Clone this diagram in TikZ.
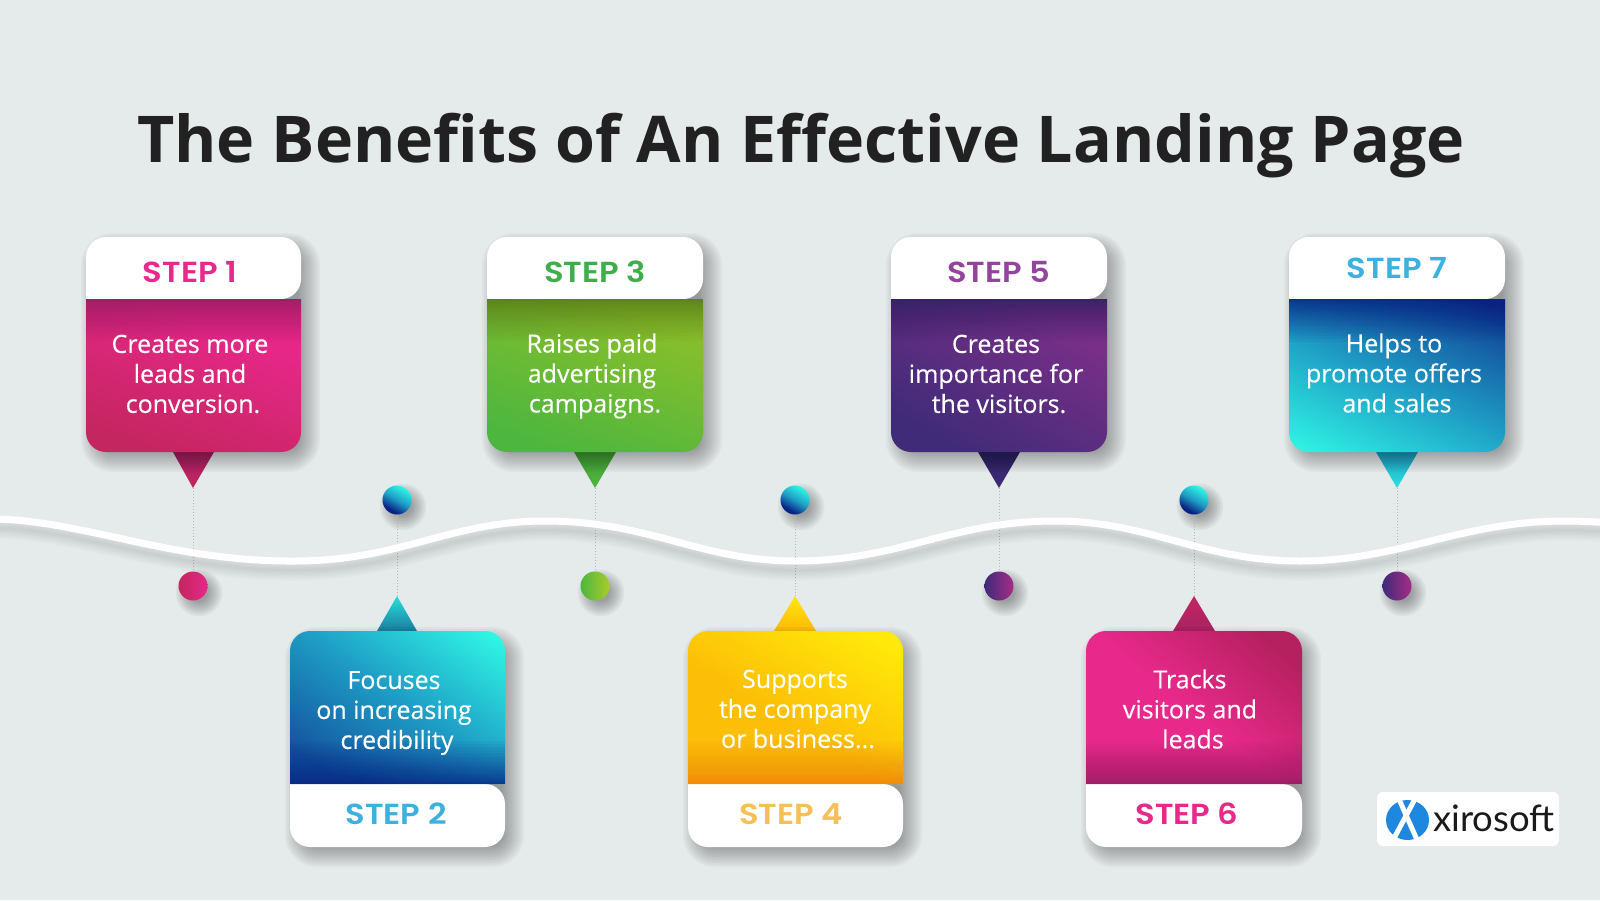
\documentclass[tikz,border=0pt]{standalone}
\usepackage{fontspec}
\setmainfont{Open Sans}
\newfontfamily\bodyfont{Open Sans}[FakeBold=0.35]
\newfontfamily\stepfont{Poppins SemiBold}[FakeStretch=1.11]
\newfontfamily\logofont{Lato}
\definecolor{bgc}{HTML}{E5EAEB}
\definecolor{pkA}{HTML}{8E1F5E}\definecolor{pkB}{HTML}{E62788}\definecolor{pkC}{HTML}{C4265F}\definecolor{pkD}{HTML}{A82264}
\definecolor{grA}{HTML}{55771C}\definecolor{grB}{HTML}{8ABF2A}\definecolor{grC}{HTML}{4DB63F}
\definecolor{puA}{HTML}{2B2460}\definecolor{puB}{HTML}{7A2F88}\definecolor{puC}{HTML}{3F2B78}
\definecolor{blA}{HTML}{2FF5E4}\definecolor{blB}{HTML}{1E9CC5}\definecolor{blC}{HTML}{0A2283}\definecolor{blD}{HTML}{14559F}
\definecolor{yeA}{HTML}{FFE80A}\definecolor{yeB}{HTML}{FCBE07}\definecolor{yeC}{HTML}{F2820C}
\definecolor{p6A}{HTML}{B5205E}\definecolor{p6B}{HTML}{E8298B}
\pgfdeclareverticalshading{sOne}{100bp}{color(0bp)=(pkC); color(25bp)=(pkC); color(65bp)=(pkB); color(100bp)=(pkB)}
\pgfdeclareverticalshading{sThree}{100bp}{color(0bp)=(grC); color(25bp)=(grC); color(72bp)=(grB); color(100bp)=(grB)}
\pgfdeclareverticalshading{sFive}{100bp}{color(0bp)=(puC); color(25bp)=(puC); color(72bp)=(puB); color(100bp)=(puB)}
\pgfdeclareverticalshading{sTwo}{100bp}{color(0bp)=(blD); color(24bp)=(blD); color(52bp)=(blB); color(82bp)=(blA); color(100bp)=(blA)}
\pgfdeclareverticalshading{sDot}{100bp}{color(0bp)=(blC); color(30bp)=(blC); color(50bp)=(blB); color(74bp)=(blA); color(100bp)=(blA)}
\pgfdeclareverticalshading{sSeven}{100bp}{color(0bp)=(blA); color(18bp)=(blA); color(48bp)=(blB); color(72bp)=(blD); color(85bp)=(blC); color(100bp)=(blC)}
\pgfdeclareverticalshading{sFour}{100bp}{color(0bp)=(yeB); color(45bp)=(yeB); color(78bp)=(yeA); color(100bp)=(yeA)}
\pgfdeclareverticalshading{sSix}{100bp}{color(0bp)=(p6B); color(48bp)=(p6B); color(78bp)=(p6A); color(100bp)=(p6A)}
\definecolor{tBlue}{HTML}{3EB0E0}\definecolor{tPink}{HTML}{E8288A}\definecolor{tGreen}{HTML}{3DAE4A}\definecolor{tPurple}{HTML}{93459E}\definecolor{tGold}{HTML}{F5C05A}
\definecolor{dotP}{HTML}{A62C88}\definecolor{dotG}{HTML}{A8CC28}\definecolor{logoBlue}{HTML}{1E88E0}
\tikzset{
  x=1pt,y=-1pt,
  bodytext/.style={text=white,font=\bodyfont\fontsize{25}{30}\selectfont,align=center,inner sep=0pt},
  steplabel/.style={font=\stepfont\fontsize{29}{30}\selectfont,inner sep=0pt,anchor=base},
  titletext/.style={text=black!87,font=\bfseries\fontsize{64.5}{70}\selectfont,inner sep=0pt,anchor=base},
  dotnode/.style={circle,minimum size=29pt,inner sep=0pt},
  guide/.style={draw=black!28,line width=.9pt,dash pattern=on 1.2pt off 1.8pt},
  pinkdot/.style={dotnode,left color=pkC,right color=pkB},
  greendot/.style={dotnode,left color=grC,right color=dotG},
  purpledot/.style={dotnode,left color=puC,right color=dotP},
  bluedot/.style={dotnode,shading=sDot,shading angle=-30},
}
% soft shadow: nested rounded rectangles
\newcommand{\softbox}[4]{%
  \foreach \k in {-10,-8,...,12}{
    \pgfmathsetmacro{\rr}{max(4,20+\k)}
    \fill[black,opacity=.03,rounded corners=\rr pt] (#1+7-\k,#2+8-\k) rectangle (#3+7+\k,#4+8+\k);
  }}
\newcommand{\softdot}[2]{%
  \foreach \k in {0,1,...,9}{
    \fill[black,opacity=.035] (#1+6,#2+7) circle ({9+\k*1.6});
  }}
% band: colour fading from the flat edge of the coloured part; x0,x1,y0,sign,colour
\newcommand{\band}[5]{%
  \foreach \k in {1,2,...,26}{
    \fill[#5,opacity=.05] (#1,#3) rectangle (#2,{#3+#4*(1+42*(\k/26)*(\k/26))});
  }}
\newcommand{\topcard}[4]{%
  \softbox{#1}{237}{#2}{452}%
  \fill[white,rounded corners=20pt] (#1,299) -- (#1,237) -- (#2,237) -- (#2,299) [sharp corners] -- cycle;
  \path[shading=#3,shading angle=#4] (#1,299) -- (#2,299) [rounded corners=20pt] -- (#2,452) -- (#1,452) [sharp corners] -- cycle;
}
\newcommand{\botcard}[4]{%
  \softbox{#1}{631}{#2}{847}%
  \fill[white,rounded corners=20pt] (#1,784) -- (#1,847) -- (#2,847) -- (#2,784) [sharp corners] -- cycle;
  \path[shading=#3,shading angle=#4] (#1,784) -- (#2,784) [rounded corners=20pt] -- (#2,631) -- (#1,631) [sharp corners] -- cycle;
}
\begin{document}
\begin{tikzpicture}
\path[use as bounding box,fill=bgc] (0,0) rectangle (1600,900);
% title
\node (title) [titletext] at (801,162) {The Benefits of An Effective Landing Page};
\coordinate (t1) at (193,488);
\coordinate (t3) at (595,488);
\coordinate (t5) at (999,488);
\coordinate (t7) at (1397,488);
\coordinate (t2) at (397,596);
\coordinate (t4) at (795,596);
\coordinate (t6) at (1194,596);
\foreach \p/\q in {193/586,595/586,999/586,1397/586,397/500,795/500,1194/500}{\softdot{\p}{\q}}
\node[pinkdot] (d1) at (193,586) {};
\node[greendot] (d3) at (595,586) {};
\node[purpledot] (d5) at (999,586) {};
\node[purpledot] (d7) at (1397,586) {};
\node[bluedot] (d2) at (397,500) {};
\node[bluedot] (d4) at (795,500) {};
\node[bluedot] (d6) at (1194,500) {};
\draw[guide] (t1) -- (d1);
\draw[guide] (t3) -- (d3);
\draw[guide] (t5) -- (d5);
\draw[guide] (t7) -- (d7);
\draw[guide] (t2) -- (d2);
\draw[guide] (t4) -- (d4);
\draw[guide] (t6) -- (d6);
% wave
\def\wavepath{(-10,519) .. controls (80,519) and (170,562) .. (295,561) .. controls (400,561) and (450,521) .. (545,521) .. controls (650,521) and (700,561) .. (795,561) .. controls (900,561) and (950,521) .. (1055,521) .. controls (1150,521) and (1200,561) .. (1300,561) .. controls (1400,561) and (1460,521) .. (1565,521) .. controls (1580,521) and (1600,522) .. (1610,523)}
\foreach \k in {1,...,9}{
  \draw[black,opacity=.012,line width=\k*2.4pt,shift={(1,9)}] \wavepath;
}
\draw[white,line width=7pt] \wavepath;
% pointers
\path[top color=pkD,bottom color=pkC] (173,452) -- (214,452) -- (t1) -- cycle;
\path[top color=grC!88!black,bottom color=grC] (574,452) -- (616,452) -- (t3) -- cycle;
\path[top color=puA!80!puC,bottom color=puC] (978,452) -- (1020,452) -- (t5) -- cycle;
\path[top color=blB,bottom color=blA!80!blB] (1376,452) -- (1418,452) -- (t7) -- cycle;
\path[top color=blA!75!blB,bottom color=blB!80!black] (t2) -- (377,631) -- (417,631) -- cycle;
\path[top color=yeA,bottom color=yeB!90!orange] (t4) -- (774,631) -- (816,631) -- cycle;
\path[top color=pkC,bottom color=pkD] (t6) -- (1173,631) -- (1215,631) -- cycle;
% cards
\topcard{86}{301}{sOne}{-20}
\band{86}{301}{299}{1}{pkA}
\topcard{487}{703}{sThree}{-20}
\band{487}{703}{299}{1}{grA}
\topcard{891}{1107}{sFive}{-30}
\band{891}{1107}{299}{1}{puA}
\topcard{1289}{1505}{sSeven}{-25}
\band{1289}{1505}{299}{1}{blC}
\botcard{290}{505}{sTwo}{-35}
\band{290}{505}{784}{-1}{blC}
\botcard{688}{903}{sFour}{-30}
\band{688}{903}{784}{-1}{yeC}
\botcard{1086}{1302}{sSix}{-40}
\band{1086}{1302}{784}{-1}{pkA}
% labels
\node[steplabel,text=tPink] (l1) at (190,282) {STEP 1};
\node[steplabel,text=tGreen] (l3) at (595,282) {STEP 3};
\node[steplabel,text=tPurple] (l5) at (999,282) {STEP 5};
\node[steplabel,text=tBlue] (l7) at (1397,278) {STEP 7};
\node[steplabel,text=tBlue] (l2) at (396,824) {STEP 2};
\node[steplabel,text=tGold] (l4) at (791,824) {STEP 4};
\node[steplabel,text=tPink] (l6) at (1187,824) {STEP 6};
% texts
\node[bodytext] (b1) at (190,374) {Creates more\\leads and\\\hspace*{6pt}conversion.};
\node[bodytext] (b3) at (592,376) {Raises paid\\advertising\\\hspace*{6pt}campaigns.};
\node[bodytext] (b5) at (996,374) {Creates\\importance for\\\hspace*{6pt}the visitors.};
\node[bodytext] (b7) at (1394,373) {Helps to\\promote offers\\\hspace*{6pt}and sales};
\node[bodytext] (b2) at (394,713) {Focuses\\on increasing\\\hspace*{6pt}credibility};
\node[bodytext] (b4) at (795,709) {Supports\\the company\\\hspace*{6pt}or business...};
\node[bodytext] (b6) at (1190,709) {Tracks\\visitors and\\\hspace*{6pt}leads};
% logo
\fill[white,rounded corners=6pt] (1377,792) rectangle (1559,846);
\fill[logoBlue] (1407.5,820) ellipse [x radius=21.5,y radius=20];
\draw[white,line width=5pt] (1398,797) -- (1418,842);
\draw[white,line width=5pt] (1416,797) -- (1392,842);
\node[font=\logofont\fontsize{36.5}{40}\selectfont,text=black!90,inner sep=0pt,anchor=base west] (logo) at (1433,831) {xirosoft};
\end{tikzpicture}
\end{document}
